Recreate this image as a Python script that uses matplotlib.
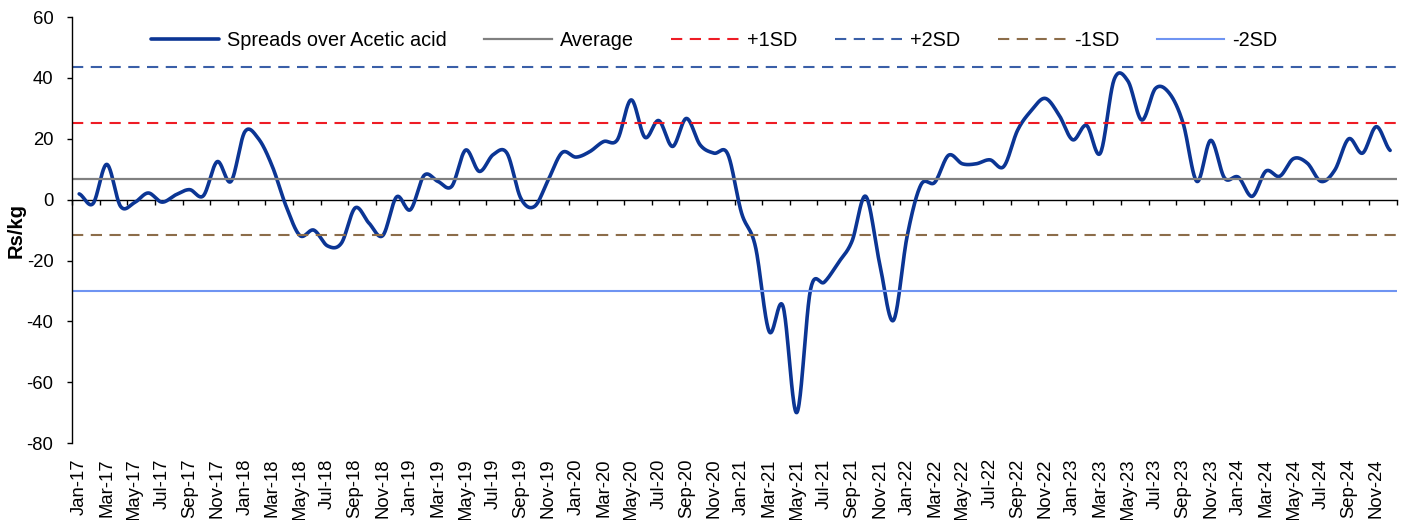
import numpy as np
import pandas as pd
import matplotlib
matplotlib.use("Agg")
import matplotlib.pyplot as plt

plt.rcParams['font.family'] = ['Liberation Sans', 'DejaVu Sans']
plt.rcParams['axes.unicode_minus'] = False

# monthly spread, Jan-17 .. Dec-24 (Rs/kg)
months = list(pd.date_range('2017-01-01', periods=96, freq='MS').strftime('%b-%y'))
spread = [
    1.9, -1.3, 11.6, -2.2, -1.0, 2.2, -0.8, 1.6, 3.3, 1.3, 12.5, 6.0,
    22.3, 20.0, 10.9, -2.2, -11.8, -10.0, -15.2, -14.3, -2.7, -7.7, -11.8, 0.9,
    -3.3, 8.0, 6.0, 4.4, 16.3, 9.3, 14.8, 15.3, 0.5, -2.2, 6.6, 15.5,
    14.0, 15.8, 19.1, 19.7, 32.8, 20.5, 26.0, 17.5, 26.7, 18.0, 15.3, 15.0,
    -4.4, -15.3, -43.3, -35.0, -70.0, -29.5, -27.1, -20.8, -13.7, 1.1, -20.8, -39.7,
    -12.0, 4.9, 5.7, 14.6, 11.8, 11.8, 13.1, 10.9, 22.8, 29.3, 33.3, 27.9,
    19.7, 24.4, 15.3, 39.5, 39.0, 26.2, 36.6, 35.0, 25.1, 6.0, 19.5, 7.1,
    7.4, 1.1, 9.4, 7.7, 13.5, 12.0, 6.0, 9.8, 20.0, 15.3, 24.0, 16.2,
]
average = 6.75
sd = 18.45


def smooth(vals, n=24):
    # cubic bezier through every point, like a spreadsheet "smoothed line"
    v = np.asarray(vals, dtype=float)
    p = np.concatenate([[v[0]], v, [v[-1]]])
    t = np.linspace(0, 1, n, endpoint=False)
    xs, ys = [], []
    for i in range(len(v) - 1):
        p0, p1, p2, p3 = p[i], p[i + 1], p[i + 2], p[i + 3]
        c1 = p1 + (p2 - p0) / 6
        c2 = p2 - (p3 - p1) / 6
        ys.append((1 - t) ** 3 * p1 + 3 * (1 - t) ** 2 * t * c1
                  + 3 * (1 - t) * t ** 2 * c2 + t ** 3 * p2)
        xs.append(i + t)
    xs.append([len(v) - 1])
    ys.append([v[-1]])
    return np.concatenate(xs), np.concatenate(ys)


fig = plt.figure(figsize=(14.09, 5.2), dpi=100)
ax = fig.add_axes([0.0513, 0.148, 0.9402, 0.819])

dash = (0, (5.4, 3.6))
sx, sy = smooth(spread)
ax.plot(sx, sy, color='#0b3594', lw=2.6, label='Spreads over Acetic acid',
        solid_capstyle='round')
ax.axhline(average, color='#808080', lw=1.6, label='Average')
ax.axhline(average + sd, color='#ee1c25', lw=1.5, ls=dash, label='+1SD')
ax.axhline(average + 2 * sd, color='#3a5fa8', lw=1.5, ls=dash, label='+2SD')
ax.axhline(average - sd, color='#8c6d4a', lw=1.5, ls=dash, label='-1SD')
ax.axhline(average - 2 * sd, color='#6f94f2', lw=1.5, label='-2SD')

ax.set_xlim(-0.5, len(spread) - 0.5)
ax.set_ylim(-80, 60)
ax.set_yticks(np.arange(-80, 61, 20))
ax.tick_params(axis='y', direction='out', length=3.6, width=1, labelsize=13.3, pad=10)

# labels along the bottom, one every two months
idx = np.arange(0, len(months), 2)
ax.set_xticks(idx)
ax.set_xticklabels([months[i] for i in idx], rotation=90, fontsize=13.3)
ax.tick_params(axis='x', length=0, pad=11)

for s in ['top', 'right', 'bottom']:
    ax.spines[s].set_visible(False)
ax.spines['left'].set_linewidth(1)

# category axis crossing at zero with ticks between categories
zx = ax.secondary_xaxis(0, transform=ax.transData)
zx.set_xticks(np.arange(-0.5, len(spread), 2))
zx.set_xticklabels([])
zx.tick_params(direction='out', length=3.6, width=1)
zx.spines['bottom'].set_linewidth(1)

ax.set_ylabel('Rs/kg', fontsize=14.5, fontweight='bold')
ax.yaxis.set_label_coords(-0.035, 0.5)

fig.legend(loc='center', bbox_to_anchor=(0.507, 0.923), ncol=6, frameon=False,
           fontsize=14.3, handlelength=3.4, handletextpad=0.4, columnspacing=1.9)

fig.savefig('out.png', dpi=100)
